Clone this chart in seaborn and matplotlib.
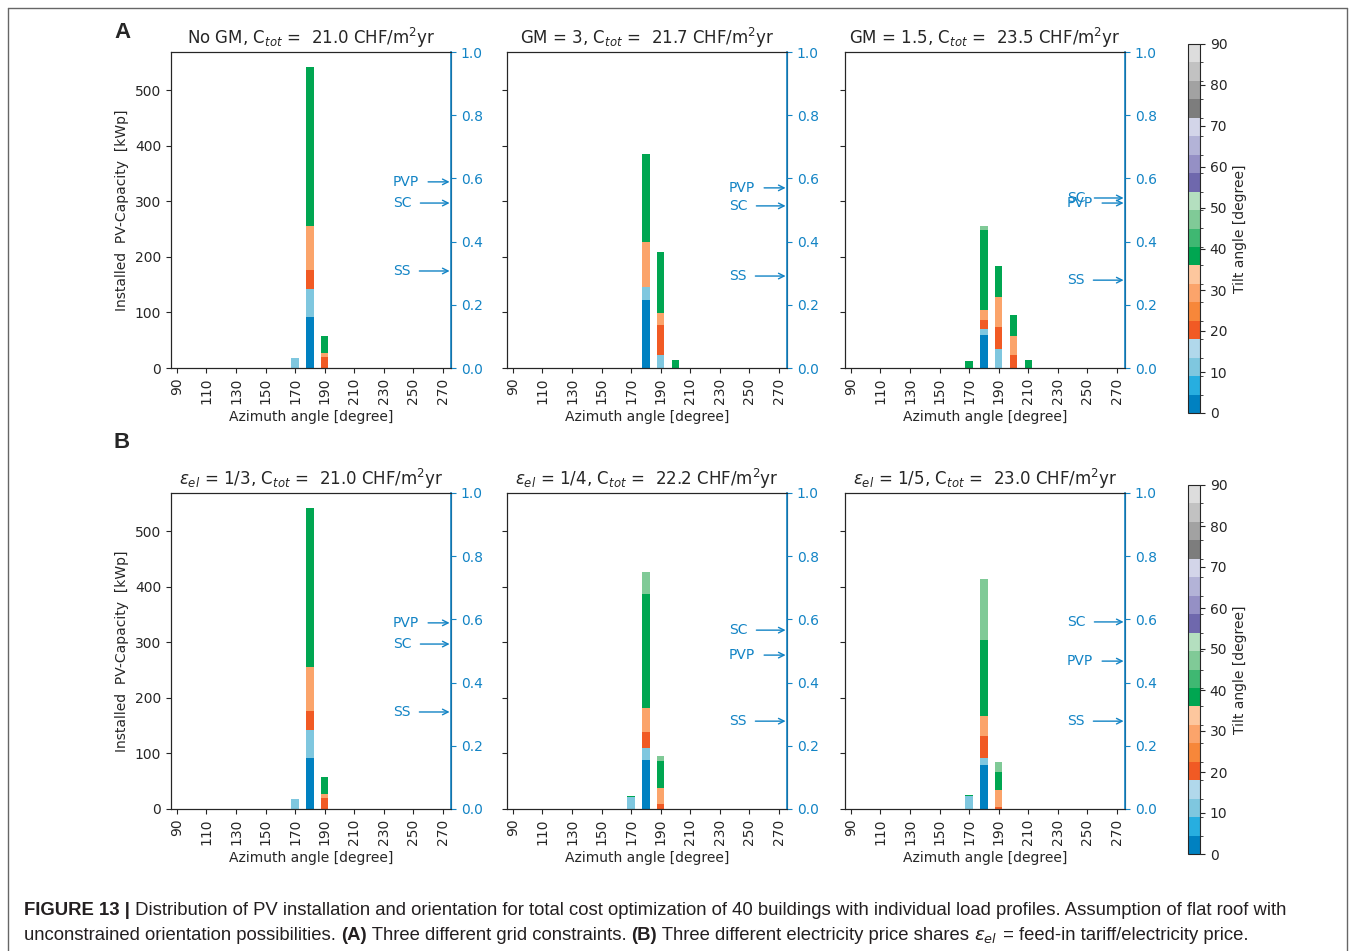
import numpy as np
import pandas as pd
import matplotlib
matplotlib.use("Agg")
import matplotlib.pyplot as plt
from matplotlib.colors import ListedColormap, BoundaryNorm
import matplotlib.colorbar as mcolorbar
import seaborn as sns

sns.set_style("ticks")
plt.rcParams['font.family'] = ['DejaVu Sans']

# ---------------- data ----------------
tilt_colors = ['#0081c1', '#27aee0', '#7fc7df', '#b1d8eb',
               '#f15a24', '#f7873a', '#fba46b', '#fdc79e',
               '#00a651', '#3fb872', '#80ca97', '#b4dfbf',
               '#6f68ad', '#9590c5', '#b3b3d7', '#d3d5e9',
               '#7d7d7d', '#a2a2a2', '#c2c2c2', '#dddddd']
tilt_bounds = list(np.linspace(0, 90, 21))

az_ticks = list(range(90, 271, 20))

titles = [r"No GM, C$_{tot}$ =  21.0 CHF/m$^2$yr",
          r"GM = 3, C$_{tot}$ =  21.7 CHF/m$^2$yr",
          r"GM = 1.5, C$_{tot}$ =  23.5 CHF/m$^2$yr",
          r"$\epsilon_{el}$ = 1/3, C$_{tot}$ =  21.0 CHF/m$^2$yr",
          r"$\epsilon_{el}$ = 1/4, C$_{tot}$ =  22.2 CHF/m$^2$yr",
          r"$\epsilon_{el}$ = 1/5, C$_{tot}$ =  23.0 CHF/m$^2$yr"]

# panel A1: No GM
a1_az   = [170, 180, 180, 180, 180, 180, 190, 190, 190]
a1_tilt = [10, 0, 10, 20, 30, 40, 20, 30, 40]
a1_cap  = [18, 92, 50, 34, 79, 287, 20, 7, 31]
# panel A2: GM = 3
a2_az   = [180, 180, 180, 180, 190, 190, 190, 190, 200]
a2_tilt = [0, 10, 30, 40, 10, 20, 30, 40, 40]
a2_cap  = [122, 24, 81, 158, 23, 54, 22, 110, 14]
# panel A3: GM = 1.5
a3_az   = [170, 180, 180, 180, 180, 180, 180, 190, 190, 190, 190, 200, 200, 200, 210]
a3_tilt = [40, 0, 10, 20, 30, 40, 45, 10, 20, 30, 40, 20, 30, 40, 40]
a3_cap  = [12, 59, 11, 16, 19, 143, 8, 34, 39, 54, 56, 23, 34, 38, 14]
# panel B1: eps = 1/3
b1_az   = [170, 180, 180, 180, 180, 180, 190, 190, 190]
b1_tilt = [10, 0, 10, 20, 30, 40, 20, 30, 40]
b1_cap  = [18, 92, 50, 34, 79, 287, 20, 7, 31]
# panel B2: eps = 1/4
b2_az   = [170, 170, 180, 180, 180, 180, 180, 180, 190, 190, 190, 190]
b2_tilt = [10, 40, 0, 10, 20, 30, 40, 45, 20, 30, 40, 45]
b2_cap  = [22, 2, 89, 21, 28, 43, 207, 39, 9, 29, 49, 9]
# panel B3: eps = 1/5
b3_az   = [170, 170, 180, 180, 180, 180, 180, 180, 190, 190, 190, 190]
b3_tilt = [10, 40, 0, 10, 20, 30, 40, 45, 20, 30, 40, 45]
b3_cap  = [23, 1.5, 79, 12, 40, 37, 137, 110, 3, 31, 32, 18]

panel_az = [a1_az, a2_az, a3_az, b1_az, b2_az, b3_az]
panel_tilt = [a1_tilt, a2_tilt, a3_tilt, b1_tilt, b2_tilt, b3_tilt]
panel_cap = [a1_cap, a2_cap, a3_cap, b1_cap, b2_cap, b3_cap]

# indicators (right axis, 0..1)
pvp_vals = [0.589, 0.570, 0.522, 0.589, 0.487, 0.468]
sc_vals  = [0.522, 0.513, 0.538, 0.522, 0.566, 0.592]
ss_vals  = [0.307, 0.291, 0.278, 0.307, 0.278, 0.278]

# ---------------- figure ----------------
W, H = 1356, 951
fig = plt.figure(figsize=(W / 100, H / 100), dpi=100)

cmap = ListedColormap(tilt_colors)
norm = BoundaryNorm(tilt_bounds, cmap.N)

def tilt_color(t):
    return cmap(norm(t))

blue = '#1384c5'
lefts = [171, 507, 845]
tops = [52, 493]
aw, ah = 280, 316

for i in range(6):
    r, c = divmod(i, 3)
    ax = fig.add_axes([lefts[c] / W, 1 - (tops[r] + ah) / H, aw / W, ah / H])
    df = pd.DataFrame({'az': panel_az[i], 'tilt': panel_tilt[i], 'cap': panel_cap[i]})
    levels = sorted(df['tilt'].unique())
    pal = {t: tilt_color(t) for t in levels}
    # seaborn stacks the last hue level at the bottom
    sns.histplot(data=df, x='az', weights='cap', hue='tilt', hue_order=levels[::-1],
                 palette=pal, multiple='stack', binwidth=5, binrange=(167.5, 212.5),
                 element='bars', alpha=1, linewidth=0, edgecolor='none',
                 legend=False, ax=ax)
    ax.set_xlim(86, 275.5)
    ax.set_ylim(0, 569)
    ax.set_xticks(az_ticks)
    ax.set_xticklabels([str(a) for a in az_ticks], rotation=90, fontsize=10)
    ax.set_yticks(range(0, 501, 100))
    ax.tick_params(axis='y', labelsize=10)
    ax.set_xlabel("Azimuth angle [degree]", fontsize=10)
    if c == 0:
        ax.set_ylabel("Installed  PV-Capacity  [kWp]", fontsize=10)
    else:
        ax.set_ylabel("")
        ax.set_yticklabels([])
    ax.set_title(titles[i], fontsize=12)
    for s in ax.spines.values():
        s.set_color('#222222')

    ax2 = ax.twinx()
    ax2.set_ylim(0, 1)
    ax2.set_yticks(np.arange(0, 1.01, 0.2))
    ax2.set_yticklabels([f"{v:.1f}" for v in np.arange(0, 1.01, 0.2)])
    ax2.tick_params(axis='y', colors=blue, labelsize=10)
    ax2.spines['right'].set_color(blue)
    ax2.spines['right'].set_linewidth(1.2)
    for lab, val in [("PVP", pvp_vals[i]), ("SC", sc_vals[i]), ("SS", ss_vals[i])]:
        ax2.annotate(lab, xy=(0.995, val), xycoords=('axes fraction', 'data'),
                     xytext=(0.793, val), textcoords=('axes fraction', 'data'),
                     ha='left', va='center', fontsize=10, color=blue,
                     arrowprops=dict(arrowstyle='->', color=blue, lw=1.0,
                                     shrinkA=4, shrinkB=0))

# colorbars
for top in [44, 485]:
    cax = fig.add_axes([1188 / W, 1 - (top + 369) / H, 12 / W, 369 / H])
    cb = mcolorbar.ColorbarBase(cax, cmap=cmap, norm=norm, boundaries=tilt_bounds,
                                ticks=list(range(0, 91, 10)), orientation='vertical')
    cb.ax.tick_params(labelsize=10)
    cb.set_label("Tilt angle [degree]", fontsize=10)
    cb.outline.set_linewidth(0.8)

# panel letters
fig.text(122 / W, 1 - 32 / H, "A", fontsize=16, weight='bold', family='Liberation Sans',
         ha='center', va='center')
fig.text(122 / W, 1 - 443 / H, "B", fontsize=16, weight='bold', family='Liberation Sans',
         ha='center', va='center')

# frame
frame_kw = dict(color='#666666', lw=1.0, transform=fig.transFigure)
fig.add_artist(plt.Line2D([8 / W, 8 / W], [0, 1 - 8 / H], **frame_kw))
fig.add_artist(plt.Line2D([8 / W, 1347 / W], [1 - 8 / H, 1 - 8 / H], **frame_kw))
fig.add_artist(plt.Line2D([1347 / W, 1347 / W], [0, 1 - 8 / H], **frame_kw))

# caption
cap_family = ['Liberation Sans']
cap_size = 13.3
renderer = fig.canvas.get_renderer()
line1 = [("FIGURE 13 |", 'bold'),
         (" Distribution of PV installation and orientation for total cost optimization of 40 buildings with individual load profiles. Assumption of flat roof with", 'normal')]
line2 = [("unconstrained orientation possibilities. ", 'normal'), ("(A)", 'bold'),
         (" Three different grid constraints. ", 'normal'), ("(B)", 'bold'),
         (" Three different electricity price shares ", 'normal'), (r"$\epsilon_{el}$", 'normal'),
         (" = feed-in tariff/electricity price.", 'normal')]

def place(pieces, y):
    x = 24
    for txt, wt in pieces:
        t = fig.text(x / W, 1 - y / H, txt, fontsize=cap_size, weight=wt,
                     family=cap_family, va='baseline', ha='left', color='#231f20')
        bb = t.get_window_extent(renderer)
        x += bb.width

place(line1, 915)
place(line2, 940)

fig.savefig("out.png", dpi=100)
